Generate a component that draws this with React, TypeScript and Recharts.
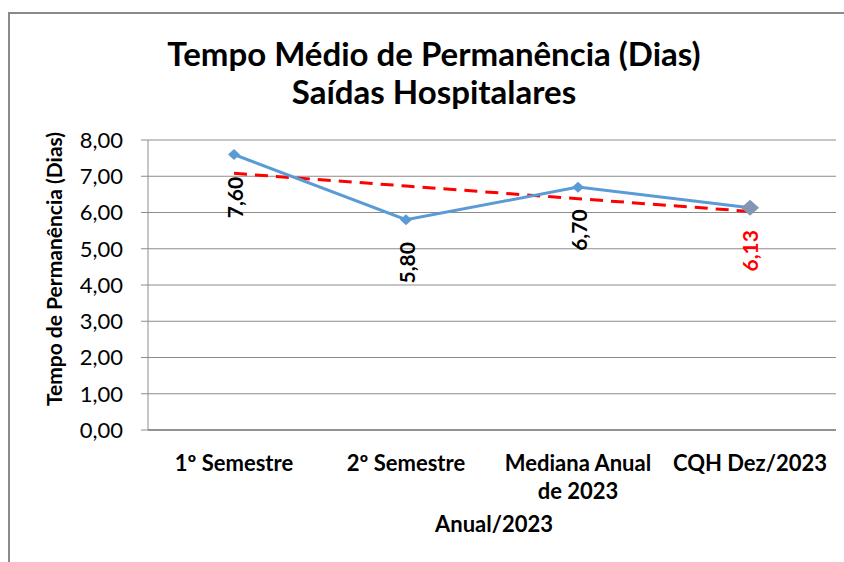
import React from 'react';
import { LineChart, Line, XAxis, YAxis, CartesianGrid, LabelList } from 'recharts';

const categories = ['1º Semestre', '2º Semestre', 'Mediana Anual de 2023', 'CQH Dez/2023'];
const tempoMedio = [7.6, 5.8, 6.7, 6.13];
// linha de tendência linear
const tendencia = [7.08, 6.73, 6.38, 6.03];
const yTicks = [0, 1, 2, 3, 4, 5, 6, 7, 8];

const data = categories.map((name, i) => ({ name, valor: tempoMedio[i], trend: tendencia[i] }));

const FONT = 'Lato, "Open Sans", sans-serif';

const fmt = (v: number) => v.toFixed(2).replace('.', ',');

function wrap(text: string, max: number) {
  const words = text.split(' ');
  const lines: string[] = [];
  let cur = '';
  words.forEach((w) => {
    const next = cur ? cur + ' ' + w : w;
    if (next.length > max && cur) {
      lines.push(cur);
      cur = w;
    } else cur = next;
  });
  if (cur) lines.push(cur);
  return lines;
}

const XTick = (props: any) => {
  const { x, payload } = props;
  const lines = wrap(payload.value, 14);
  return (
    <text x={x} y={471} textAnchor="middle" fontFamily={FONT} fontWeight={700} fontSize={22} fill="#000">
      {lines.map((l, i) => (
        <tspan key={i} x={x} dy={i === 0 ? 0 : 28}>{l}</tspan>
      ))}
    </text>
  );
};

const Dot = (props: any) => {
  const { cx, cy, index } = props;
  if (cx == null || cy == null) return null;
  const last = index === tempoMedio.length - 1;
  const w = last ? 9 : 6;
  const h = last ? 8 : 5.5;
  return (
    <path
      key={index}
      d={`M${cx},${cy - h} L${cx + w},${cy} L${cx},${cy + h} L${cx - w},${cy} Z`}
      fill={last ? '#8497B0' : '#5B9BD5'}
    />
  );
};

const ValueLabel = (props: any) => {
  const { x, y, value, index } = props;
  const last = index === tempoMedio.length - 1;
  const cy = y + 43;
  return (
    <text
      x={x}
      y={cy}
      transform={`rotate(-90 ${x} ${cy})`}
      textAnchor="middle"
      dominantBaseline="central"
      fontFamily={FONT}
      fontWeight={700}
      fontSize={21}
      fill={last ? '#FF0000' : '#000'}
    >
      {fmt(value)}
    </text>
  );
};

export default function App() {
  return (
    <div style={{ position: 'absolute', left: 0, top: 0, width: 844, height: 562, background: '#fff', overflow: 'hidden' }}>
      <div style={{ position: 'absolute', left: 8, top: 12, width: 900, height: 600, borderLeft: '2px solid #8a8a8a', borderTop: '2px solid #8a8a8a' }} />
      <div style={{ position: 'absolute', left: 0, top: 34, width: 868, textAlign: 'center', fontFamily: FONT, fontWeight: 700, fontSize: 33, lineHeight: '38px', color: '#000' }}>
        Tempo Médio de Permanência (Dias)
        <br />
        Saídas Hospitalares
      </div>
      <div style={{ position: 'absolute', left: 0, top: 0, width: 844, height: 562 }}>
        <LineChart width={844} height={562} data={data} margin={{ top: 140, right: 8, bottom: 0, left: 0 }}>
          <CartesianGrid vertical={false} stroke="#8c8c8c" strokeWidth={1} />
          <XAxis
            dataKey="name"
            height={132}
            padding={{ left: 86, right: 86 }}
            axisLine={{ stroke: '#7f7f7f', strokeWidth: 1.5 }}
            tickLine={false}
            tick={<XTick />}
            interval={0}
          />
          <YAxis
            width={148}
            domain={[0, 8]}
            ticks={yTicks}
            tickFormatter={fmt}
            axisLine={{ stroke: '#8c8c8c' }}
            tickLine={{ stroke: '#8c8c8c' }}
            tickSize={7}
            tickMargin={18}
            tick={{ fontFamily: FONT, fontSize: 22, fill: '#000' }}
          />
          <Line
            type="linear"
            dataKey="trend"
            stroke="#FF0000"
            strokeWidth={3}
            strokeDasharray="13 8"
            dot={false}
            activeDot={false}
            isAnimationActive={false}
          />
          <Line
            type="linear"
            dataKey="valor"
            stroke="#5B9BD5"
            strokeWidth={3}
            dot={<Dot />}
            activeDot={false}
            isAnimationActive={false}
          >
            <LabelList dataKey="valor" content={<ValueLabel />} />
          </Line>
        </LineChart>
      </div>
      <div
        style={{
          position: 'absolute',
          left: 53,
          top: 269,
          transform: 'translate(-50%, -50%) rotate(-90deg)',
          whiteSpace: 'nowrap',
          fontFamily: FONT,
          fontWeight: 700,
          fontSize: 21,
          color: '#000',
        }}
      >
        Tempo de Permanência (Dias)
      </div>
      <div style={{ position: 'absolute', left: 494, top: 523, transform: 'translate(-50%, -50%)', whiteSpace: 'nowrap', fontFamily: FONT, fontWeight: 700, fontSize: 22, color: '#000' }}>
        Anual/2023
      </div>
    </div>
  );
}
